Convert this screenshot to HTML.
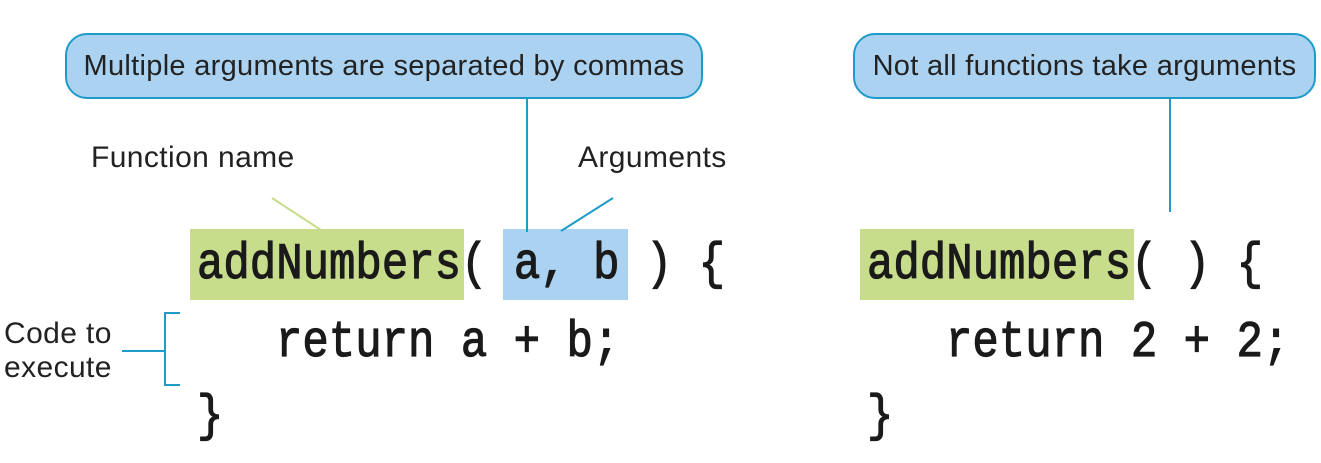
<!DOCTYPE html>
<html><head><style>
body{margin:0;width:1321px;height:463px;background:#fff;position:relative;overflow:hidden;font-family:"Liberation Sans",sans-serif;color:#222}
.b{position:absolute;background:#abd3f1;border:2px solid #1f9bca;border-radius:22px;box-sizing:border-box;font-size:29px;letter-spacing:0.3px;display:flex;align-items:center;justify-content:center}
.l{position:absolute;font-size:30px;letter-spacing:0.4px;white-space:nowrap}
.c{position:absolute;font-family:"Liberation Mono",monospace;font-size:44px;-webkit-text-stroke:1px #1a1a1a;white-space:pre;transform:scaleY(1.15);transform-origin:left top;line-height:1;color:#1a1a1a}
.hl{position:absolute}
</style></head><body>
<div class="b" style="left:65px;top:33px;width:638px;height:66px">Multiple arguments are separated by commas</div>
<div class="b" style="left:853px;top:33px;width:463px;height:66px">Not all functions take arguments</div>
<div class="hl" style="left:190px;top:229px;width:274px;height:71px;background:#c8dd8b"></div>
<div class="hl" style="left:503px;top:229px;width:125px;height:71px;background:#abd3f1"></div>
<div class="hl" style="left:860px;top:229px;width:274px;height:71px;background:#c8dd8b"></div>
<svg width="1321" height="463" style="position:absolute;left:0;top:0">
<g stroke="#1f9bca" stroke-width="2" fill="none">
<line x1="527" y1="99" x2="527" y2="232"/>
<line x1="1170" y1="99" x2="1170" y2="212"/>
<line x1="613" y1="198" x2="561" y2="231"/>
<line x1="122" y1="351" x2="165" y2="351"/>
<polyline points="180,313 165,313 165,385 180,385"/>
</g>
<line x1="272" y1="198" x2="321" y2="230" stroke="#c8dd8b" stroke-width="2"/>
</svg>
<div class="l" style="left:91px;top:141px">Function name</div>
<div class="l" style="left:578px;top:141px">Arguments</div>
<div class="l" style="left:4px;top:317px;line-height:34px">Code to<br>execute</div>
<div class="c" style="left:197px;top:240px">addNumbers( a, b ) {</div>
<div class="c" style="left:276px;top:318px">return a + b;</div>
<div class="c" style="left:197px;top:392px">}</div>
<div class="c" style="left:867px;top:240px">addNumbers( ) {</div>
<div class="c" style="left:946px;top:318px">return 2 + 2;</div>
<div class="c" style="left:867px;top:392px">}</div>
</body></html>
